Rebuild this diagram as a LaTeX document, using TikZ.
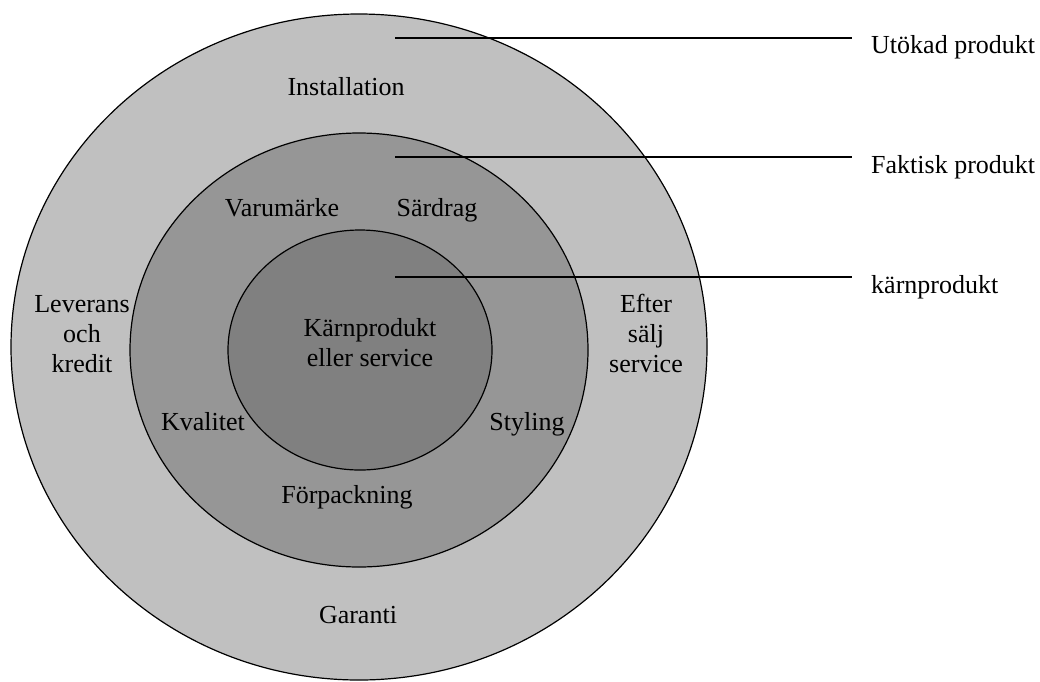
\documentclass[tikz,border=0pt]{standalone}
\usepackage{fontspec}
\setmainfont{Liberation Serif}
\definecolor{ringA}{HTML}{C0C0C0}
\definecolor{ringB}{HTML}{969696}
\definecolor{ringC}{HTML}{808080}
\begin{document}
\begin{tikzpicture}[x=1pt,y=-1pt,
  ring/.style={draw=black,line width=1.2pt},
  lbl/.style={font=\fontsize{26}{30}\selectfont,inner sep=0pt,align=center,anchor=base},
  side/.style={font=\fontsize{26}{30}\selectfont,inner sep=0pt,anchor=base west},
  leader/.style={draw=black,line width=1.5pt}]
\useasboundingbox (0,0) rectangle (1040,681);
% rings
\draw[ring,fill=ringA] (359,347) ellipse [x radius=348, y radius=333];
\draw[ring,fill=ringB] (359,350) ellipse [x radius=229, y radius=217];
\draw[ring,fill=ringC] (360,350) ellipse [x radius=132, y radius=120];
% labels inside
\node[lbl] (inst) at (346,95) {Installation};
\node[lbl] (varu) at (282,216) {Varumärke};
\node[lbl] (sard) at (437,216) {Särdrag};
\node[lbl] (karn) at (370,366) {Kärnprodukt\\eller service};
\node[lbl] (lev) at (82,372) {Leverans\\och\\kredit};
\node[lbl] (eft) at (646,372) {Efter\\sälj\\service};
\node[lbl] (kval) at (203,430) {Kvalitet};
\node[lbl] (styl) at (527,430) {Styling};
\node[lbl] (forp) at (347,503) {Förpackning};
\node[lbl] (gar) at (358,623) {Garanti};
% side labels
\node[side] (uto) at (871,53) {Utökad produkt};
\node[side] (fak) at (871,173) {Faktisk produkt};
\node[side] (kp) at (871,293) {kärnprodukt};
% leader lines
\coordinate (s1) at (395,38);
\coordinate (e1) at (852,38);
\coordinate (s2) at (395,157);
\coordinate (e2) at (852,157);
\coordinate (s3) at (395,277);
\coordinate (e3) at (852,277);
\draw[leader] (s1) -- (e1);
\draw[leader] (s2) -- (e2);
\draw[leader] (s3) -- (e3);
\end{tikzpicture}
\end{document}
